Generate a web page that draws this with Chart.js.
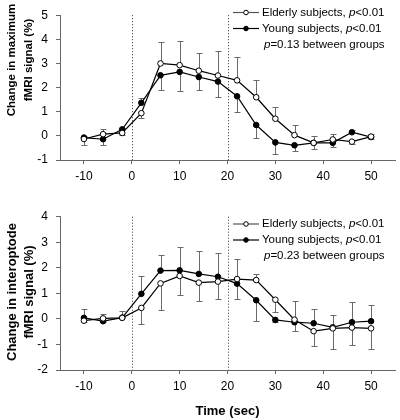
<!DOCTYPE html>
<html><head><meta charset="utf-8">
<script src="https://cdn.jsdelivr.net/npm/chart.js@4/dist/chart.umd.min.js"></script>
<style>
html,body{margin:0;padding:0;background:#fff;}
#wrap{position:relative;width:400px;height:420px;overflow:hidden;}
#c1{position:absolute;left:0;top:0;}
#c2{position:absolute;left:0;top:200px;}
</style></head><body>
<div id="wrap"><canvas id="c1" width="400" height="200"></canvas><canvas id="c2" width="400" height="220"></canvas></div>
<script>
// ---- data ----
const timePoints = [-10,-6,-2,2,6,10,14,18,22,26,30,34,38,42,46,50];
const xTicks = [-10,0,10,20,30,40,50];
const stimulusMarks = [0,20];
const seriesNames = ['Elderly subjects','Young subjects'];
const withinP = ['<0.01','<0.01'];

// Panel A: maximum fMRI signal
const maxElderly = [-0.13,0.07,0.12,0.94,3.00,2.93,2.70,2.50,2.30,1.60,0.71,0.03,-0.29,-0.15,-0.24,-0.03];
const maxYoung   = [-0.07,-0.14,0.27,1.37,2.51,2.65,2.44,2.25,1.64,0.45,-0.27,-0.39,-0.29,-0.29,0.15,-0.05];
const maxElderlyErrUp   = [0,0.23,0,0,0.90,1.00,0.75,1.00,0.95,0.73,0.49,0.42,0.29,0.23,0,0.10];
const maxElderlyErrDown = [0.24,0,0.07,0.19,0,0,0,0,0,0,0,0,0,0,0.08,0];
const maxYoungErrUp     = [0.05,0,0.05,0.18,0,0,0,0,0,0,0,0,0,0,0.08,0];
const maxYoungErrDown   = [0,0.23,0,0,0.61,0.78,0.54,0.64,0.67,0.52,0.50,0.25,0.25,0.19,0,0.08];
const maxBetweenP = '=0.13';
const maxYTicks = [-1,5];

// Panel B: interoptode fMRI signal
const ioElderly = [-0.07,0.02,0.04,0.43,1.39,1.68,1.42,1.46,1.56,1.52,0.75,-0.03,-0.48,-0.37,-0.34,-0.37];
const ioYoung   = [0.04,-0.09,0.05,0.98,1.89,1.90,1.76,1.65,1.38,0.73,-0.04,-0.13,-0.17,-0.33,-0.13,-0.09];
const ioElderlyErrUp   = [0,0.16,0,0,0,0,0,0,0.78,0.23,0,0.74,0,0,0,0];
const ioElderlyErrDown = [0.05,0,0,0.63,1.04,0.74,0.73,0.70,0,0,0.49,0,0.59,0.80,0.70,0.80];
const ioYoungErrUp     = [0.34,0,0.27,0.71,0.61,0.91,0.91,0.93,0,0,0,0,0.56,0.49,0.78,0.64];
const ioYoungErrDown   = [0,0.05,0,0,0,0,0,0,0.60,0.80,0.10,0.33,0,0,0,0];
const ioBetweenP = '=0.23';
const ioYTicks = [-2,4];

const FONT = '"Liberation Sans", Arial, Helvetica, sans-serif';

function pts(vals){ return timePoints.map((t,i)=>({x:t,y:vals[i]})); }

const errorBarPlugin = {
  id:'errorBars',
  beforeDatasetsDraw(chart){
    const {ctx, scales:{x,y}} = chart;
    ctx.save(); ctx.strokeStyle='#6a6a6a'; ctx.lineWidth=1;
    chart.data.datasets.forEach(ds=>{
      ds.data.forEach((p,i)=>{
        const px = Math.round(x.getPixelForValue(p.x))+0.5;
        [[ds.errUp,1],[ds.errDown,-1]].forEach(([arr,s])=>{
          const e = arr[i]; if(!e) return;
          const y0 = y.getPixelForValue(p.y);
          const y1 = Math.round(y.getPixelForValue(p.y+s*e))+0.5;
          ctx.beginPath(); ctx.moveTo(px,y0); ctx.lineTo(px,y1);
          ctx.moveTo(px-3,y1); ctx.lineTo(px+3,y1); ctx.stroke();
        });
      });
    });
    ctx.restore();
  }
};

const markPlugin = {
  id:'marks',
  beforeDatasetsDraw(chart){
    const {ctx, chartArea:a, scales:{x}} = chart;
    ctx.save(); ctx.strokeStyle='#333'; ctx.lineWidth=1; ctx.setLineDash([1,2]);
    stimulusMarks.forEach(v=>{
      const px = Math.round(x.getPixelForValue(v))+0.5;
      ctx.beginPath(); ctx.moveTo(px,a.top); ctx.lineTo(px,a.bottom); ctx.stroke();
    });
    ctx.restore();
  }
};

function drawRich(ctx, parts, x, y, size){
  let cx = x;
  parts.forEach(([txt,it])=>{
    ctx.font = (it?'italic ':'')+size+'px '+FONT;
    ctx.fillText(txt,cx,y);
    cx += ctx.measureText(txt).width;
  });
}

const annotPlugin = {
  id:'annot',
  afterDraw(chart){
    const o = chart.options.plugins.annot;
    const ctx = chart.ctx;
    ctx.save();
    ctx.fillStyle='#000'; ctx.textBaseline='middle'; ctx.textAlign='left';
    // legend
    chart.data.datasets.forEach((ds,i)=>{
      const yy = o.legendY + i*o.legendGap;
      ctx.strokeStyle = i===0 ? '#555' : '#000'; ctx.lineWidth = 1.2;
      ctx.beginPath(); ctx.moveTo(233,yy); ctx.lineTo(259,yy); ctx.stroke();
      ctx.beginPath(); ctx.arc(246,yy,2.3,0,Math.PI*2);
      ctx.fillStyle = ds.pointBackgroundColor; ctx.fill();
      ctx.strokeStyle='#000'; ctx.lineWidth=1; ctx.stroke();
      ctx.fillStyle='#000';
      drawRich(ctx,[[seriesNames[i]+', ',false],['p',true],[withinP[i],false]],262,yy,11.5);
    });
    drawRich(ctx,[['p',true],[o.betweenP+' between groups',false]],264,o.legendY+2*o.legendGap,11.5);
    // y title
    ctx.font = 'bold '+o.titleSize+'px '+FONT;
    ctx.textAlign='center';
    ctx.translate(0,o.titleY); ctx.rotate(-Math.PI/2);
    ctx.fillText(o.yTitle[0],0,12);
    ctx.fillText(o.yTitle[1],0,29);
    ctx.restore();
    if(o.xTitle){
      ctx.save(); ctx.fillStyle='#000'; ctx.textAlign='center'; ctx.textBaseline='middle';
      ctx.font='bold 13px '+FONT;
      const a = chart.chartArea;
      ctx.fillText(o.xTitle,(a.left+a.right)/2,o.xTitleY);
      ctx.restore();
    }
  }
};

function makeChart(id, elderly, young, eUp, eDown, yUp, yDown, yRange, padTop, xH, annot){
  const datasets = [
    {label:seriesNames[0], data:pts(elderly), errUp:eUp, errDown:eDown,
     borderColor:'#000', borderWidth:1.2, pointRadius:2.8, pointBorderWidth:1,
     pointBackgroundColor:'#fff', pointBorderColor:'#000', tension:0},
    {label:seriesNames[1], data:pts(young), errUp:yUp, errDown:yDown,
     borderColor:'#000', borderWidth:1.2, pointRadius:2.8, pointBorderWidth:1,
     pointBackgroundColor:'#000', pointBorderColor:'#000', tension:0}
  ];
  return new Chart(document.getElementById(id),{
    type:'line',
    data:{datasets},
    plugins:[markPlugin,errorBarPlugin,annotPlugin],
    options:{
      responsive:false, animation:false, events:[],
      layout:{padding:{top:padTop,right:2,left:0,bottom:0}},
      plugins:{legend:{display:false},tooltip:{enabled:false},annot},
      scales:{
        x:{type:'linear',min:-15,max:55,
           afterBuildTicks(s){ s.ticks = xTicks.map(v=>({value:v})); },
           afterFit(s){ s.height = xH; },
           border:{display:true,color:'#666',width:1},
           grid:{display:true,drawOnChartArea:false,drawTicks:true,tickLength:4,tickColor:'#666'},
           ticks:{color:'#000',font:{family:FONT,size:12},padding:5,maxRotation:0}},
        y:{type:'linear',min:yRange[0],max:yRange[1],
           afterFit(s){ s.width = 60; },
           border:{display:true,color:'#666',width:1},
           grid:{display:true,drawOnChartArea:false,drawTicks:true,tickLength:4,tickColor:'#666'},
           ticks:{stepSize:1,color:'#000',font:{family:FONT,size:12},padding:8}}
      }
    }
  });
}

makeChart('c1', maxElderly, maxYoung, maxElderlyErrUp, maxElderlyErrDown, maxYoungErrUp, maxYoungErrDown,
  maxYTicks, 5, 40,
  {legendY:12.5, legendGap:16, betweenP:maxBetweenP, yTitle:['Change in maximum','fMRI signal (%)'], titleY:60, titleSize:11.5});
makeChart('c2', ioElderly, ioYoung, ioElderlyErrUp, ioElderlyErrDown, ioYoungErrUp, ioYoungErrDown,
  ioYTicks, 16.7, 50,
  {legendY:24, legendGap:16, betweenP:ioBetweenP, yTitle:['Change in interoptode','fMRI signal (%)'], titleY:92, titleSize:13,
   xTitle:'Time (sec)', xTitleY:211});
</script>
</body></html>
